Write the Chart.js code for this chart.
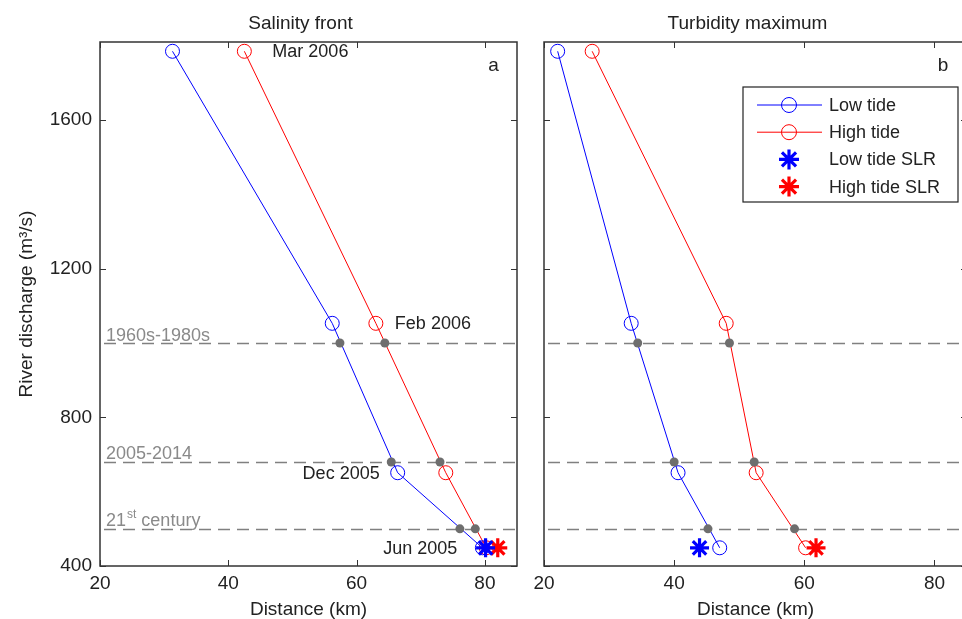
<!DOCTYPE html>
<html>
<head>
<meta charset="utf-8">
<script src="https://cdn.jsdelivr.net/npm/chart.js@4.4.1/dist/chart.umd.min.js"></script>
<style>
  html, body { margin: 0; padding: 0; background: #fff; overflow: hidden; }
  #quadro { position: relative; width: 962px; height: 619px; overflow: hidden; }
  #graficoSal { position: absolute; left: 0; top: 0; }
  #graficoTurb { position: absolute; left: 530px; top: 0; }
</style>
</head>
<body>
<div id="quadro">
  <canvas id="graficoSal" width="530" height="619"></canvas>
  <canvas id="graficoTurb" width="440" height="619"></canvas>
</div>
<script>
// dados
const descarga = [1785, 1053, 651, 449];
const meses = ['Mar 2006', 'Feb 2006', 'Dec 2005', 'Jun 2005'];
const salBaixa = [31.3, 56.2, 66.4, 79.6];
const salAlta = [42.5, 63.0, 73.9, 80.2];
const turbBaixa = [22.1, 33.4, 40.6, 47.0];
const turbAlta = [27.4, 48.0, 52.6, 60.2];

const niveis = [1000, 680, 500];
const rotulosNiveis = ['1960s-1980s', '2005-2014', '21st century'];
const salBaixaNivel = [57.4, 65.4, 76.1];
const salAltaNivel = [64.4, 73.0, 78.5];
const turbBaixaNivel = [34.4, 40.0, 45.2];
const turbAltaNivel = [48.5, 52.3, 58.5];

const descargaSLR = 449;
const salSLR = [80.1, 82.0];   // baixa, alta
const turbSLR = [43.9, 61.8];

const ticksX = [20, 40, 60, 80];
const ticksY = [400, 800, 1200, 1600];
const legendaOrdem = ['Low tide', 'High tide', 'Low tide SLR', 'High tide SLR'];

const azul = '#0000ff';
const vermelho = '#ff0000';
const cinza = '#6e6e6e';
const corTexto = '#222222';
const fonte = '"Liberation Sans", Arial, Helvetica, sans-serif';

Chart.defaults.font.family = fonte;
Chart.defaults.color = corTexto;

function pontos(xs, ys) {
  return xs.map((v, i) => ({ x: v, y: ys[i] }));
}

function conjuntos(baixa, alta, baixaNivel, altaNivel, slr) {
  return [
    { label: 'Low tide SLR', data: [{ x: slr[0], y: descargaSLR }], pointStyle: 'star',
      pointRadius: 9.5, pointBorderWidth: 3.2, borderColor: azul, backgroundColor: azul, order: 0 },
    { label: 'High tide SLR', data: [{ x: slr[1], y: descargaSLR }], pointStyle: 'star',
      pointRadius: 9.5, pointBorderWidth: 3.2, borderColor: vermelho, backgroundColor: vermelho, order: 0 },
    { label: 'niveis', data: pontos(baixaNivel, niveis).concat(pontos(altaNivel, niveis)),
      pointRadius: 4.5, pointBorderWidth: 0, backgroundColor: cinza, borderColor: cinza, order: 1 },
    { label: 'Low tide', data: pontos(baixa, descarga), showLine: true, borderColor: azul, borderWidth: 1,
      pointRadius: 7, pointBorderWidth: 1, pointBackgroundColor: 'rgba(0,0,0,0)', order: 2 },
    { label: 'High tide', data: pontos(alta, descarga), showLine: true, borderColor: vermelho, borderWidth: 1,
      pointRadius: 7, pointBorderWidth: 1, pointBackgroundColor: 'rgba(0,0,0,0)', order: 2 }
  ];
}

function desenhaMarca(ctx, estilo, cor, x, y, r, largura) {
  ctx.save();
  ctx.strokeStyle = cor;
  ctx.lineWidth = largura;
  ctx.beginPath();
  if (estilo === 'circle') {
    ctx.arc(x, y, r, 0, Math.PI * 2);
  } else {
    for (let k = 0; k < 4; k++) {
      const ang = k * Math.PI / 4;
      ctx.moveTo(x - Math.cos(ang) * r, y - Math.sin(ang) * r);
      ctx.lineTo(x + Math.cos(ang) * r, y + Math.sin(ang) * r);
    }
  }
  ctx.stroke();
  ctx.restore();
}

const painelPlugin = {
  id: 'painel',
  beforeDatasetsDraw(chart, args, o) {
    const { ctx, chartArea: a, scales: { y } } = chart;
    ctx.save();
    ctx.strokeStyle = '#808080';
    ctx.lineWidth = 1.5;
    ctx.setLineDash([12, 7]);
    niveis.forEach(n => {
      const py = Math.round(y.getPixelForValue(n)) + 0.5;
      ctx.beginPath();
      ctx.moveTo(a.left + 4, py);
      ctx.lineTo(a.right, py);
      ctx.stroke();
    });
    ctx.setLineDash([]);
    if (o.rotulosNivel) {
      ctx.fillStyle = '#8a8a8a';
      ctx.textBaseline = 'alphabetic';
      ctx.textAlign = 'left';
      niveis.forEach((n, i) => {
        const py = y.getPixelForValue(n) - 2.5;
        let px = a.left + 6;
        const m = rotulosNiveis[i].match(/^(\d+)(st|nd|rd|th)(.*)$/);
        if (m) {
          ctx.font = '18px ' + fonte;
          ctx.fillText(m[1], px, py);
          px += ctx.measureText(m[1]).width + 1;
          ctx.font = '12px ' + fonte;
          ctx.fillText(m[2], px, py - 8);
          px += ctx.measureText(m[2]).width;
          ctx.font = '18px ' + fonte;
          ctx.fillText(m[3], px, py);
        } else {
          ctx.font = '18px ' + fonte;
          ctx.fillText(rotulosNiveis[i], px, py);
        }
      });
    }
    ctx.restore();
  },
  afterDraw(chart, args, o) {
    const { ctx, chartArea: a, scales: { x, y } } = chart;
    ctx.save();
    // moldura
    ctx.strokeStyle = '#333333';
    ctx.lineWidth = 1.5;
    ctx.strokeRect(a.left, a.top, a.right - a.left, a.bottom - a.top);
    // ticks para dentro
    ctx.lineWidth = 1;
    ctx.beginPath();
    x.ticks.forEach(t => {
      const px = Math.round(x.getPixelForValue(t.value)) + 0.5;
      ctx.moveTo(px, a.bottom); ctx.lineTo(px, a.bottom - 6);
      ctx.moveTo(px, a.top); ctx.lineTo(px, a.top + 6);
    });
    y.ticks.forEach(t => {
      const py = Math.round(y.getPixelForValue(t.value)) + 0.5;
      ctx.moveTo(a.left, py); ctx.lineTo(a.left + 6, py);
      ctx.moveTo(a.right, py); ctx.lineTo(a.right - 6, py);
    });
    ctx.stroke();

    // titulo
    ctx.fillStyle = corTexto;
    ctx.font = '19px ' + fonte;
    ctx.textAlign = 'center';
    ctx.textBaseline = 'alphabetic';
    ctx.fillText(o.titulo, (a.left + a.right) / 2 - 8, a.top - 13);

    // letra do painel
    ctx.font = '19px ' + fonte;
    ctx.textAlign = 'left';
    ctx.textBaseline = 'middle';
    ctx.fillText(o.letra, x.getPixelForValue(80.5), a.top + 24);

    // notas dos meses
    ctx.font = '18px ' + fonte;
    (o.notas || []).forEach(n => {
      const idx = chart.data.datasets.findIndex(d => d.label === n.serie);
      const p = chart.getDatasetMeta(idx).data[n.i];
      ctx.textAlign = n.dx < 0 ? 'right' : 'left';
      ctx.fillText(meses[n.i], p.x + n.dx, p.y + 1);
    });

    // legenda
    if (o.legenda) {
      const bx = a.right - 224, by = a.top + 45;
      ctx.fillStyle = '#ffffff';
      ctx.fillRect(bx, by, 215, 115);
      ctx.strokeStyle = '#222222';
      ctx.lineWidth = 1.2;
      ctx.strokeRect(bx, by, 215, 115);
      ctx.font = '18px ' + fonte;
      ctx.textAlign = 'left';
      ctx.textBaseline = 'middle';
      legendaOrdem.forEach((rotulo, i) => {
        const d = chart.data.datasets.find(s => s.label === rotulo);
        const ry = by + 18 + i * 27.2;
        if (d.showLine) {
          ctx.strokeStyle = d.borderColor;
          ctx.lineWidth = 1;
          ctx.beginPath();
          ctx.moveTo(bx + 14, ry); ctx.lineTo(bx + 79, ry);
          ctx.stroke();
          desenhaMarca(ctx, 'circle', d.borderColor, bx + 46, ry, 7.5, 1);
        } else {
          desenhaMarca(ctx, 'star', d.borderColor, bx + 46, ry, 10, 3.2);
        }
        ctx.fillStyle = corTexto;
        ctx.fillText(rotulo, bx + 86, ry + 1);
      });
    }
    ctx.restore();
  }
};

function opcoes(painel) {
  return {
    responsive: false,
    animation: false,
    events: [],
    layout: { autoPadding: false, padding: { left: 0, top: 42, right: painel.direita, bottom: 0 } },
    plugins: {
      legend: { display: false },
      tooltip: { enabled: false },
      painel: painel.plugin
    },
    scales: {
      x: {
        type: 'linear', min: 20, max: 85,
        grid: { display: false, drawTicks: false },
        border: { display: false },
        afterBuildTicks: s => { s.ticks = ticksX.map(v => ({ value: v })); },
        ticks: { padding: 6, color: corTexto, font: { size: 19 }, callback: v => String(v) },
        title: { display: true, text: 'Distance (km)', color: corTexto,
                 font: { size: 19, lineHeight: 1 }, padding: { top: 0, bottom: 0 } },
        afterFit: s => { s.height = 53; s.paddingLeft = 0; s.paddingRight = 0; }
      },
      y: {
        type: 'linear', min: 400, max: 1810,
        grid: { display: false, drawTicks: false },
        border: { display: false },
        afterBuildTicks: s => { s.ticks = ticksY.map(v => ({ value: v })); },
        ticks: { display: painel.rotulosY, padding: 8, color: corTexto, font: { size: 19 },
                 callback: v => String(v) },
        title: { display: painel.rotulosY, text: 'River discharge (m\u00b3/s)', color: corTexto,
                 font: { size: 19, lineHeight: 1 }, padding: { top: 17, bottom: 0 } },
        afterFit: s => { s.width = painel.larguraY; s.paddingTop = 0; s.paddingBottom = 0; }
      }
    }
  };
}

const graficoSal = new Chart(document.getElementById('graficoSal'), {
  type: 'scatter',
  data: { datasets: conjuntos(salBaixa, salAlta, salBaixaNivel, salAltaNivel, salSLR) },
  options: opcoes({
    direita: 13, larguraY: 100, rotulosY: true,
    plugin: {
      titulo: 'Salinity front', letra: 'a', rotulosNivel: true, legenda: false,
      notas: [
        { i: 0, serie: 'High tide', dx: 28 },
        { i: 1, serie: 'High tide', dx: 19 },
        { i: 2, serie: 'Low tide', dx: -18 },
        { i: 3, serie: 'Low tide', dx: -25 }
      ]
    }
  }),
  plugins: [painelPlugin]
});

const graficoTurb = new Chart(document.getElementById('graficoTurb'), {
  type: 'scatter',
  data: { datasets: conjuntos(turbBaixa, turbAlta, turbBaixaNivel, turbAltaNivel, turbSLR) },
  options: opcoes({
    direita: 3, larguraY: 14, rotulosY: false,
    plugin: { titulo: 'Turbidity maximum', letra: 'b', rotulosNivel: false, legenda: true, notas: [] }
  }),
  plugins: [painelPlugin]
});
</script>
</body>
</html>
